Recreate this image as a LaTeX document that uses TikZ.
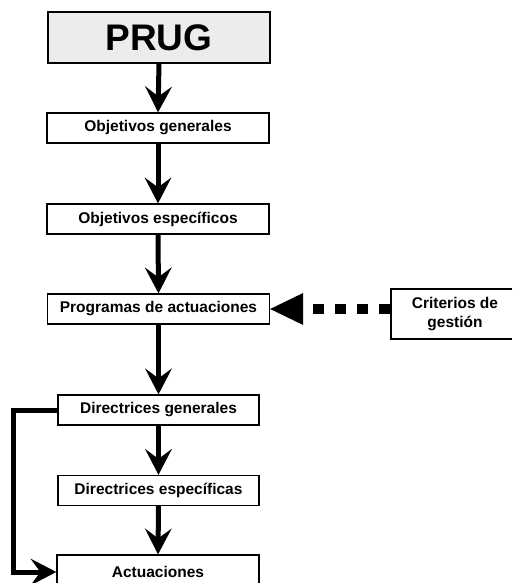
\documentclass[tikz,border=0pt]{standalone}
\usepackage{fontspec}
\setmainfont{Liberation Sans}
\usetikzlibrary{arrows.meta}
\tikzset{
  box/.style={draw, line width=1.3pt, fill=white, minimum width=222pt, minimum height=30pt, inner sep=0pt, font=\fontsize{15.5}{17}\selectfont\bfseries},
  bigarrow/.style={line width=5pt, -{Stealth[length=26pt,width=27pt,inset=10pt,line width=0pt]}},
  dasharrow/.style={line width=10pt, dash pattern=on 11pt off 11pt, -{Triangle[length=33pt,width=32pt,line width=0pt]}},
}
\begin{document}
\begin{tikzpicture}[x=1pt,y=-1pt]
\useasboundingbox (0,0) rectangle (512,583);
\node[box, fill=gray!15, minimum height=51pt, font=\fontsize{37}{40}\selectfont\bfseries] (prug) at (159,37.5) {PRUG};
\node[box] (og) at (158,128) {Objetivos generales};
\node[box] (oe) at (158,219) {Objetivos específicos};
\node[box] (pa) at (158.5,309) {Programas de actuaciones};
\node[box, minimum width=201pt] (dg) at (158.5,410) {Directrices generales};
\node[box, minimum width=201pt] (de) at (158.5,490.5) {Directrices específicas};
\node[box, minimum width=202pt, minimum height=34pt] (ac) at (158,572) {Actuaciones};
\draw[line width=1.3pt] (512,289) -- (391,289) -- (391,339) -- (512,339);
\node[box, draw=none, fill=none, minimum width=128pt, minimum height=50pt, align=center, font=\fontsize{15.5}{19}\selectfont\bfseries] (cg) at (455,314) {Criterios de\\gestión};
\draw[bigarrow] (prug.south) -- (og.north);
\draw[bigarrow] (og.south) -- (oe.north);
\draw[bigarrow] (oe.south) -- (pa.north);
\draw[bigarrow] (pa.south) -- (dg.north);
\draw[bigarrow] (dg.south) -- (de.north);
\draw[bigarrow] (de.south) -- (ac.north);
\draw[bigarrow, line join=miter] (dg.west) -- ++(-44,0) |- (ac.west);
\draw[dasharrow] (cg.west |- pa.east) -- (pa.east);
\end{tikzpicture}
\end{document}
